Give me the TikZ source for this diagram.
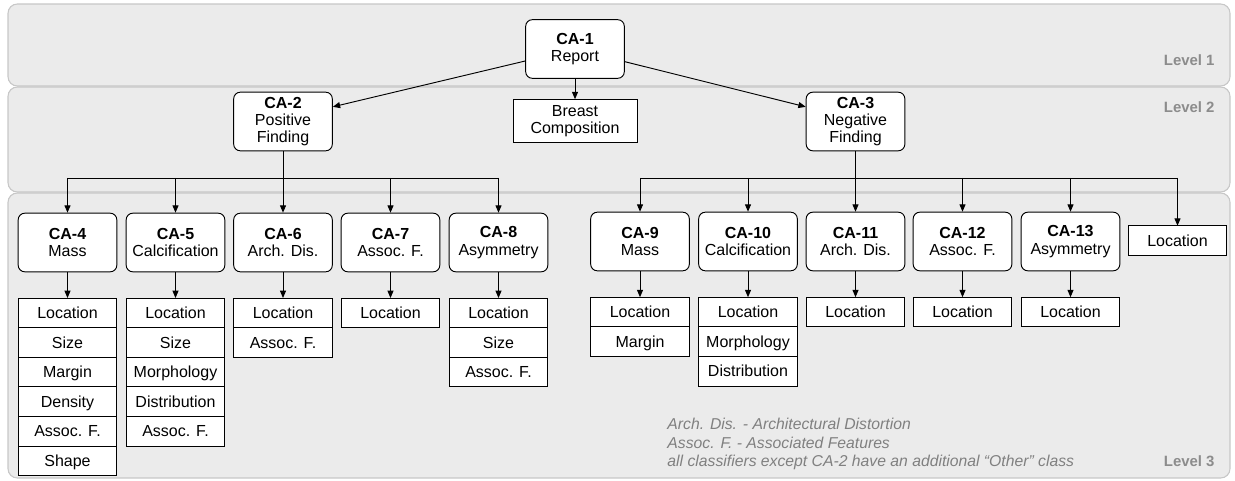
\documentclass[tikz,border=0pt]{standalone}
\usepackage{fontspec}
\setmainfont{Liberation Sans}
\usetikzlibrary{shapes,positioning,calc,arrows.meta}

\begin{document}
\begin{tikzpicture}[
      x=0.75pt, y=-0.75pt, line width=0.7pt,
      every node/.style = {font=\fontsize{12}{13}\selectfont},
      band/.style = {draw=black!22, fill=black!8, rounded corners=7pt, line width=0.8pt},
      lvl/.style = {text=black!45, font=\fontsize{11.2}{13}\selectfont\bfseries, anchor=east, inner sep=0pt},
      cls/.style = {draw, fill=white, rounded corners=5pt, align=center, minimum width=74pt, minimum height=44pt, inner sep=2pt},
      attr/.style = {draw, fill=white, minimum width=74pt, minimum height=22.2pt, text height=9.6pt, text depth=1pt, inner sep=0pt, outer sep=0pt},
      arr/.style = {-{Triangle[length=5.5pt,width=4.5pt]}},
      note/.style = {text=black!50, font=\fontsize{11.8}{13.9}\selectfont\itshape, align=left, anchor=north west, inner sep=0pt}
      ]
      \useasboundingbox (0,0) rectangle (1235,481);
      % levels
      \draw[band] (8,4) rectangle (1230,86);
      \draw[band] (8,87) rectangle (1230,192);
      \draw[band] (8,193) rectangle (1230,478);
      \node[lvl] (lv1) at (1215,60) {Level 1};
      \node[lvl] (lv2) at (1215,107) {Level 2};
      \node[lvl] (lv3) at (1215,461) {Level 3};
      % level 1 and 2
      \node[cls] (ca1) at (575,49) {\textbf{CA-1}\\Report};
      \node[draw, fill=white, minimum width=93pt, minimum height=32pt, inner sep=0pt, align=center] (bc) at (575,121) {Breast\\Composition};
      \node[cls] (ca2) at (283,121.5) {\textbf{CA-2}\\Positive\\Finding};
      \node[cls] (ca3) at (855.5,121.5) {\textbf{CA-3}\\Negative\\Finding};
      % level 3, positive
      \node[cls] (ca4) at (67.5,242.5) {\textbf{CA-4}\\Mass};
      \node[cls] (ca5) at (175.5,242.5) {\textbf{CA-5}\\Calcification};
      \node[cls] (ca6) at (283,242.5) {\textbf{CA-6}\\Arch. Dis.};
      \node[cls] (ca7) at (390.5,242.5) {\textbf{CA-7}\\Assoc. F.};
      \node[cls] (ca8) at (498.5,242.5) {\textbf{CA-8}\\Asymmetry};
      % level 3, negative
      \node[cls] (ca9) at (640,241.5) {\textbf{CA-9}\\Mass};
      \node[cls] (ca10) at (748,241.5) {\textbf{CA-10}\\Calcification};
      \node[cls] (ca11) at (855.5,241.5) {\textbf{CA-11}\\Arch. Dis.};
      \node[cls] (ca12) at (962.5,241.5) {\textbf{CA-12}\\Assoc. F.};
      \node[cls] (ca13) at (1070.5,241.5) {\textbf{CA-13}\\Asymmetry};
      \node[attr] (loc) at (1177.5,240.5) {Location};
      % attributes
      \node[attr] (a4-1) at (67.5,312.8) {Location};
      \node[attr, below=0pt of a4-1] (a4-2) {Size};
      \node[attr, below=0pt of a4-2] (a4-3) {Margin};
      \node[attr, below=0pt of a4-3] (a4-4) {Density};
      \node[attr, below=0pt of a4-4] (a4-5) {Assoc. F.};
      \node[attr, below=0pt of a4-5] (a4-6) {Shape};
      \node[attr] (a5-1) at (175.5,312.8) {Location};
      \node[attr, below=0pt of a5-1] (a5-2) {Size};
      \node[attr, below=0pt of a5-2] (a5-3) {Morphology};
      \node[attr, below=0pt of a5-3] (a5-4) {Distribution};
      \node[attr, below=0pt of a5-4] (a5-5) {Assoc. F.};
      \node[attr] (a6-1) at (283,312.8) {Location};
      \node[attr, below=0pt of a6-1] (a6-2) {Assoc. F.};
      \node[attr] (a7-1) at (390.5,312.8) {Location};
      \node[attr] (a8-1) at (498.5,312.8) {Location};
      \node[attr, below=0pt of a8-1] (a8-2) {Size};
      \node[attr, below=0pt of a8-2] (a8-3) {Assoc. F.};
      \node[attr] (a9-1) at (640,312) {Location};
      \node[attr, below=0pt of a9-1] (a9-2) {Margin};
      \node[attr] (a10-1) at (748,312) {Location};
      \node[attr, below=0pt of a10-1] (a10-2) {Morphology};
      \node[attr, below=0pt of a10-2] (a10-3) {Distribution};
      \node[attr] (a11-1) at (855.5,312) {Location};
      \node[attr] (a12-1) at (962.5,312) {Location};
      \node[attr] (a13-1) at (1070.5,312) {Location};
      % connectors
      \path[arr] (ca1) edge (bc)
        ([yshift=-9pt]ca1.west) edge ([yshift=11pt]ca2.east)
        ([yshift=-9.5pt]ca1.east) edge ([yshift=11pt]ca3.west);
      \coordinate (bus2) at (283,178);
      \coordinate (bus3) at (855.5,178);
      \draw (ca2) -- (bus2);
      \draw (ca3) -- (bus3);
      \draw (bus2 -| ca4) -- (bus2 -| ca8);
      \draw (bus3 -| ca9) -- (bus3 -| loc);
      \path[arr] (bus2 -| ca4) edge (ca4) (bus2 -| ca5) edge (ca5) (bus2) edge (ca6)
        (bus2 -| ca7) edge (ca7) (bus2 -| ca8) edge (ca8);
      \path[arr] (bus3 -| ca9) edge (ca9) (bus3 -| ca10) edge (ca10) (bus3) edge (ca11)
        (bus3 -| ca12) edge (ca12) (bus3 -| ca13) edge (ca13) (bus3 -| loc) edge (loc);
      \path[arr] (ca4) edge (a4-1) (ca5) edge (a5-1) (ca6) edge (a6-1) (ca7) edge (a7-1)
        (ca8) edge (a8-1) (ca9) edge (a9-1) (ca10) edge (a10-1) (ca11) edge (a11-1)
        (ca12) edge (a12-1) (ca13) edge (a13-1);
      % abbreviations
      \node[note] (nt) at (667,418) {Arch. Dis. - Architectural Distortion\\Assoc. F. - Associated Features\\all classifiers except CA-2 have an additional “Other” class};
    \end{tikzpicture}
\end{document}
